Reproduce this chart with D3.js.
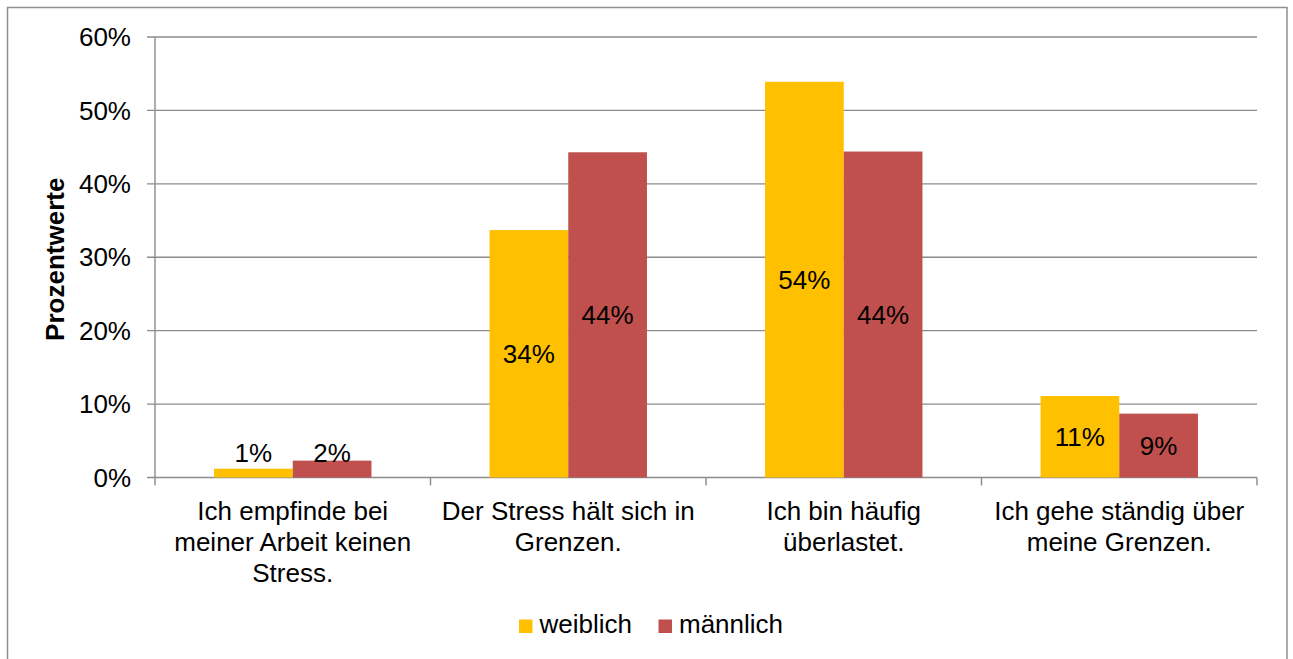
<!DOCTYPE html>
<html>
<head>
<meta charset="utf-8">
<script src="https://cdn.jsdelivr.net/npm/d3@7"></script>
<style>
  html, body { margin: 0; padding: 0; background: #ffffff; }
  svg { display: block; font-family: "Liberation Sans", Arial, sans-serif; }
</style>
</head>
<body>
<svg id="chart" width="1293" height="659"></svg>
<script>
// Stress perception by gender (share of respondents)
const categories = [
  "Ich empfinde bei\nmeiner Arbeit keinen\nStress.",
  "Der Stress hält sich in\nGrenzen.",
  "Ich bin häufig\nüberlastet.",
  "Ich gehe ständig über\nmeine Grenzen."
];
const seriesNames = ["weiblich", "männlich"];
const weiblich = [0.012, 0.337, 0.539, 0.111];
const maennlich = [0.023, 0.443, 0.444, 0.087];
const yTicks = [0, 0.1, 0.2, 0.3, 0.4, 0.5, 0.6];
const colors = ["#FFC000", "#C0504D"];
const yTitle = "Prozentwerte";

const svg = d3.select("#chart");
const plot = { left: 155, right: 1257, top: 37, bottom: 477.5 };
const fontSize = 26;
const gridColor = "#8c8c8c";

// outer chart frame
svg.append("rect")
  .attr("x", 7.5).attr("y", 7.5)
  .attr("width", 1279.5).attr("height", 660)
  .attr("fill", "#fff").attr("stroke", "#8f8f8f").attr("stroke-width", 1.5);

const x0 = d3.scaleBand().domain(d3.range(categories.length))
  .range([plot.left, plot.right]).padding(0);
const bw = x0.bandwidth();
// Gap width 75% of a bar: two bars + 0.75 bar of gap = band
const x1 = d3.scaleBand().domain(d3.range(seriesNames.length))
  .range([bw * 0.2143, bw * 0.7857]).padding(0);
const y = d3.scaleLinear().domain([0, 0.6]).range([plot.bottom, plot.top]);

// horizontal gridlines
svg.append("g").selectAll("line").data(yTicks).join("line")
  .attr("x1", plot.left - 8).attr("x2", plot.right)
  .attr("y1", d => y(d)).attr("y2", d => y(d))
  .attr("stroke", gridColor).attr("stroke-width", 1.4);

// y axis line
svg.append("line")
  .attr("x1", plot.left).attr("x2", plot.left)
  .attr("y1", plot.top).attr("y2", plot.bottom)
  .attr("stroke", gridColor).attr("stroke-width", 1.4);

// y tick labels
svg.append("g").selectAll("text").data(yTicks).join("text")
  .attr("x", 131).attr("y", d => y(d)).attr("dy", "0.35em")
  .attr("text-anchor", "end").attr("font-size", fontSize).attr("fill", "#000")
  .text(d3.format(".0%"));

// y axis title
svg.append("text")
  .attr("transform", `translate(64,${(plot.top + plot.bottom) / 2 + 2}) rotate(-90)`)
  .attr("text-anchor", "middle").attr("font-size", fontSize)
  .attr("font-weight", "bold").attr("fill", "#000")
  .text(yTitle);

// category tick marks below axis
const boundaries = d3.range(categories.length + 1).map(i =>
  i < categories.length ? x0(i) : x0(categories.length - 1) + bw);
svg.append("g").selectAll("line").data(boundaries).join("line")
  .attr("x1", d => d).attr("x2", d => d)
  .attr("y1", plot.bottom).attr("y2", plot.bottom + 8)
  .attr("stroke", gridColor).attr("stroke-width", 1.4);

// bars
const series = [weiblich, maennlich];
const barData = [];
series.forEach((vals, s) => vals.forEach((v, i) => barData.push({ s, i, v })));

svg.append("g").selectAll("rect").data(barData).join("rect")
  .attr("x", d => x0(d.i) + x1(d.s))
  .attr("y", d => y(d.v))
  .attr("width", x1.bandwidth())
  .attr("height", d => y(0) - y(d.v))
  .attr("fill", d => colors[d.s]);

// value labels, centred in bars but kept above the axis
svg.append("g").selectAll("text").data(barData).join("text")
  .attr("x", d => x0(d.i) + x1(d.s) + x1.bandwidth() / 2)
  .attr("y", d => Math.min((y(d.v) + y(0)) / 2, y(0) - 24.5))
  .attr("dy", "0.35em")
  .attr("text-anchor", "middle").attr("font-size", fontSize).attr("fill", "#000")
  .text(d => d3.format(".0%")(d.v));

// category labels
const catG = svg.append("g").selectAll("text").data(categories).join("text")
  .attr("x", (d, i) => x0(i) + bw / 2)
  .attr("y", 520)
  .attr("text-anchor", "middle").attr("font-size", fontSize).attr("fill", "#000");
catG.each(function(d) {
  const t = d3.select(this);
  d.split("\n").forEach((line, k) => {
    t.append("tspan")
      .attr("x", t.attr("x"))
      .attr("dy", k === 0 ? 0 : 30.8)
      .text(line);
  });
});

// legend
const legendX = [519, 658.5];
const legend = svg.append("g").selectAll("g").data(seriesNames).join("g")
  .attr("transform", (d, i) => `translate(${legendX[i]},619.5)`);
legend.append("rect")
  .attr("width", 13.5).attr("height", 13.5)
  .attr("fill", (d, i) => colors[i]);
legend.append("text")
  .attr("x", 20.5).attr("y", 13.8)
  .attr("font-size", fontSize).attr("fill", "#000")
  .text(d => d);
</script>
</body>
</html>
